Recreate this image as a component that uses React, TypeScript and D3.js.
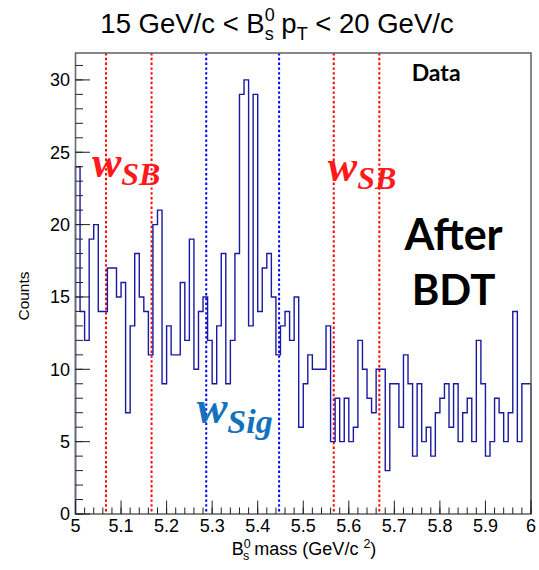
import React from "react";
import * as d3 from "d3";

// Bs0 candidate mass histogram, 100 bins from 5 to 6 GeV/c^2
const massLow = 5;
const massHigh = 6;
const counts = [
  24, 14, 12, 19, 20, 14, 14, 17, 17, 15,
  16, 7, 13, 18, 15, 14, 11, 20, 21, 9,
  13, 11, 11, 16, 12, 19, 10, 14, 15, 12,
  9, 13, 18, 9, 12, 18, 29, 30, 13, 29,
  14, 17, 18, 15, 11, 13, 14, 12, 15, 6,
  9, 11, 10, 10, 10, 13, 5, 8, 5, 8,
  5, 6, 12, 10, 8, 7, 10, 10, 3, 9,
  9, 6, 11, 9, 4, 9, 5, 6, 4, 7,
  8, 9, 6, 9, 5, 7, 8, 5, 12, 9,
  4, 5, 8, 7, 5, 7, 14, 5, 9, 9,
];

// window boundaries
const sidebandEdges = [5.067, 5.167, 5.567, 5.667];
const signalEdges = [5.287, 5.447];

const xTicks = d3.range(0, 11).map((i) => 5 + i * 0.1);
const xMinorTicks = d3.range(0, 51).map((i) => 5 + i * 0.02);
const yTicks = [0, 5, 10, 15, 20, 25, 30];
const yMinorTicks = d3.range(0, 32);

export default function App() {
  const width = 539;
  const height = 570;
  const left = 75.5;
  const right = 531;
  const top = 53;
  const bottom = 514;

  const x = d3.scaleLinear().domain([massLow, massHigh]).range([left, right]);
  const y = d3.scaleLinear().domain([0, 31.86]).range([bottom, top]);

  const binWidth = (massHigh - massLow) / counts.length;
  const pts: [number, number][] = [[massLow, 0]];
  counts.forEach((c, i) => pts.push([massLow + i * binWidth, c]));
  pts.push([massHigh, counts[counts.length - 1]]);
  pts.push([massHigh, 0]);

  const line = d3
    .line<[number, number]>()
    .x((d) => x(d[0]))
    .y((d) => y(d[1]))
    .curve(d3.curveStepAfter);

  const sans = "'Liberation Sans', Arial, sans-serif";
  const serif = "'Liberation Serif', 'Times New Roman', serif";
  const bold = "Lato, 'Open Sans', sans-serif";

  return (
    <svg
      width={width}
      height={height}
      style={{ position: "absolute", left: 0, top: 0, background: "#fff" }}
    >
      {/* title */}
      <text x={277} y={33} textAnchor="middle" fontFamily={sans} fontSize={27.5} fill="#000">
        15 GeV/c &lt; B
        <tspan fontSize={18} dy={-12}>0</tspan>
        <tspan fontSize={18} dx={-10} dy={19}>s</tspan>
        <tspan dy={-7}> p</tspan>
        <tspan fontSize={18} dy={7}>T</tspan>
        <tspan dy={-7}> &lt; 20 GeV/c</tspan>
      </text>

      {/* window lines */}
      {sidebandEdges.map((v) => (
        <line key={"r" + v} x1={x(v)} x2={x(v)} y1={top} y2={bottom}
          stroke="#ff0000" strokeWidth={2} strokeDasharray="2.4 2.4" />
      ))}
      {signalEdges.map((v) => (
        <line key={"b" + v} x1={x(v)} x2={x(v)} y1={top} y2={bottom}
          stroke="#0000ff" strokeWidth={2} strokeDasharray="2.4 2.4" />
      ))}

      {/* histogram */}
      <path d={line(pts) ?? ""} fill="none" stroke="#1a1aa0" strokeWidth={1.4} />

      {/* frame */}
      <rect x={left} y={top} width={right - left} height={bottom - top}
        fill="none" stroke="#6a6a6a" strokeWidth={1.6} />

      {/* x axis */}
      <g stroke="#222" strokeWidth={1}>
        {xMinorTicks.map((t) => (
          <line key={t} x1={x(t)} x2={x(t)} y1={bottom} y2={bottom - 6.5} />
        ))}
        {xTicks.map((t) => (
          <line key={t} x1={x(t)} x2={x(t)} y1={bottom} y2={bottom - 13.5} />
        ))}
      </g>
      {xTicks.map((t) => (
        <text key={t} x={x(t)} y={532} textAnchor="middle" fontFamily={sans} fontSize={18}>
          {d3.format("~g")(+t.toFixed(1))}
        </text>
      ))}
      <text x={304} y={555} textAnchor="middle" fontFamily={sans} fontSize={18}>
        B
        <tspan fontSize={12.5} dy={-7.5}>0</tspan>
        <tspan fontSize={12.5} dx={-7.5} dy={12.5}>s</tspan>
        <tspan dy={-5}> mass (GeV/c </tspan>
        <tspan fontSize={12.5} dy={-7.5}>2</tspan>
        <tspan dy={7.5}>)</tspan>
      </text>

      {/* y axis */}
      <g stroke="#222" strokeWidth={1}>
        {yMinorTicks.map((t) => (
          <line key={t} x1={left} x2={left + 7.5} y1={y(t)} y2={y(t)} />
        ))}
        {yTicks.map((t) => (
          <line key={t} x1={left} x2={left + 14.5} y1={y(t)} y2={y(t)} />
        ))}
      </g>
      {yTicks.map((t) => (
        <text key={t} x={70} y={y(t)} dy="0.35em" textAnchor="end" fontFamily={sans} fontSize={18}>
          {t}
        </text>
      ))}
      <text transform="translate(29,296) rotate(-90)" textAnchor="middle" fontFamily={sans} fontSize={15.5}>
        Counts
      </text>

      {/* annotations */}
      <text x={x(5.036)} y={y(23.3)} fontFamily={serif} fontStyle="italic" fontWeight="bold" fontSize={44} fill="#ff1a1a">
        w<tspan fontSize={32} dy={8}>SB</tspan>
      </text>
      <text x={x(5.554)} y={y(23.0)} fontFamily={serif} fontStyle="italic" fontWeight="bold" fontSize={44} fill="#ff1a1a">
        w<tspan fontSize={32} dy={8}>SB</tspan>
      </text>
      <text x={x(5.266)} y={y(6.3)} fontFamily={serif} fontStyle="italic" fontWeight="bold" fontSize={46} fill="#1272be">
        w<tspan fontSize={34} dy={10}>Sig</tspan>
      </text>
      <text x={x(5.738)} y={y(29.9)} fontFamily={bold} fontWeight="bold" fontSize={23}>
        Data
      </text>
      <text x={x(5.83)} y={y(18.25)} textAnchor="middle" fontFamily={bold} fontWeight="bold" fontSize={43}>
        After
      </text>
      <text x={x(5.83)} y={y(14.45)} textAnchor="middle" fontFamily={bold} fontWeight="bold" fontSize={42}>
        BDT
      </text>
    </svg>
  );
}
